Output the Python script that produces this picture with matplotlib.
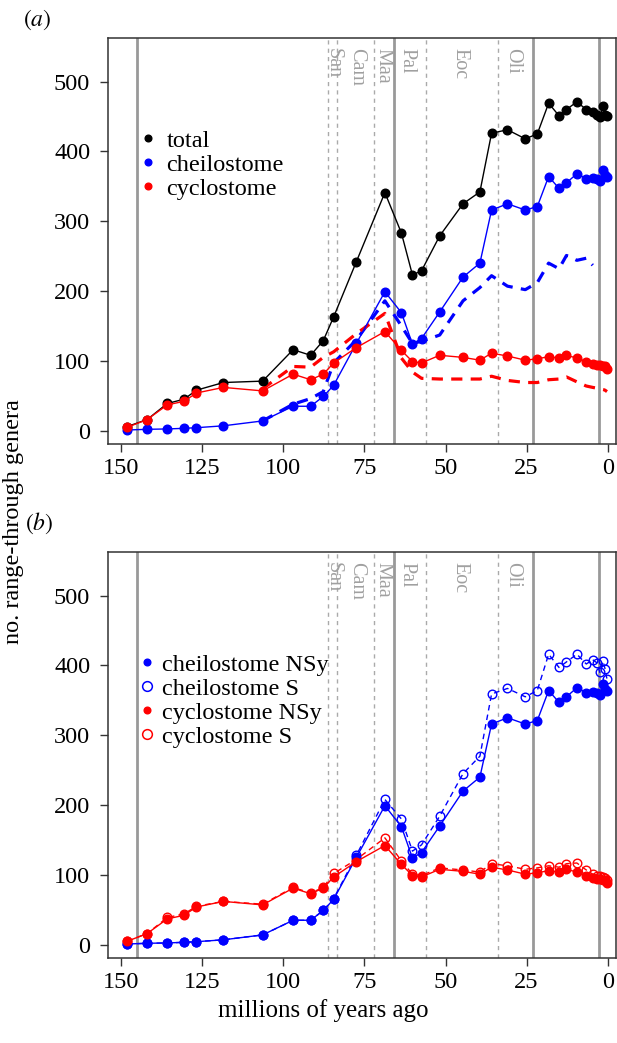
import matplotlib
matplotlib.use("Agg")
import matplotlib.pyplot as plt
from matplotlib.lines import Line2D

# ---------------- data ----------------
ma = [148.1, 142.0, 135.8, 130.7, 126.8, 118.5, 106.4, 97.0, 91.6, 87.7, 84.5,
      77.5, 68.7, 63.6, 60.2, 57.4, 51.8, 44.6, 39.4, 35.8, 30.9, 25.4, 21.7,
      18.2, 15.0, 12.7, 9.5, 6.6, 4.6, 3.4, 2.4, 1.4, 0.8, 0.2]
total = [6, 16, 39, 45, 58, 69, 71, 116, 108, 129, 163, 242, 341, 283, 223, 229,
         279, 325, 342, 426, 431, 418, 425, 469, 451, 460, 471, 460, 456, 452,
         449, 465, 452, 451]
cheilo = [1, 2, 2.5, 3.4, 4.3, 7, 14, 35, 35, 49, 65, 125, 199, 169, 124, 132,
          170, 220, 240, 316, 325, 316, 321, 364, 347, 355, 368, 361, 362, 361,
          357, 373, 366, 363]
cyclo = [5, 16, 37, 42, 54, 62, 57, 81, 73, 81, 97, 119, 142, 115, 99, 97, 108,
         105, 101, 111, 107, 101, 103, 106, 104, 108, 104, 99, 96, 94, 94, 93,
         92, 89]

ma_bdash = [106.4, 97.0, 91.6, 87.7, 84.5, 77.5, 68.7, 63.6, 60.2, 57.4, 51.8,
            44.6, 39.4, 35.8, 30.9, 25.4, 21.7, 18.2, 15.0, 12.7, 9.5, 6.6, 4.6]
cheilo_dash = [14, 38, 46, 56, 97, 130, 186, 150, 125, 128, 137, 186, 205, 222,
               207, 202, 212, 240, 232, 251, 244, 247, 237]
ma_rdash = [106.4, 97.0, 91.6, 87.7, 84.5, 77.5, 68.7, 63.6, 60.2, 57.4, 51.8,
            44.6, 39.4, 35.8, 30.9, 25.4, 21.7, 18.2, 15.0, 12.7, 9.5, 6.6, 4.6,
            3.4, 2.4, 1.4, 0.8, 0.2]
cyclo_dash = [60, 92, 91, 105, 113, 139, 168, 104, 84, 75, 74, 74, 74, 78, 72,
              69, 69, 73, 74, 77, 70, 64, 62, 61, 60, 59, 58, 56]

cheilo_S = [1, 2, 2.5, 3.4, 4.3, 7, 14, 35, 35, 49, 66, 128, 208, 180, 134, 143,
            184, 245, 270, 359, 367, 355, 364, 416, 397, 405, 416, 402, 408, 404,
            390, 406, 395, 380]
cyclo_S = [5, 16, 39, 44, 55, 62, 58, 82, 74, 82, 102, 122, 153, 120, 101, 99,
           110, 107, 104, 116, 113, 108, 110, 113, 111, 116, 117, 107, 101, 99,
           98, 97, 95, 92]

major_bounds = [145.0, 66.0, 23.03, 2.58]
stage_bounds = [86.3, 83.6, 72.1, 56.0, 33.9]
stage_names = ["San", "Cam", "Maa", "Pal", "Eoc", "Oli"]
stage_pos = [84.8, 77.4, 69.3, 62.0, 45.6, 29.2]

xticks = [150, 125, 100, 75, 50, 25, 0]
yticks = [0, 100, 200, 300, 400, 500]

# ---------------- style ----------------
plt.rcParams['font.family'] = ['Liberation Serif', 'DejaVu Serif']
plt.rcParams['mathtext.fontset'] = 'stix'

BLUE = '#0000FF'
RED = '#FF0000'
GREY = '#999999'
FS = 17.5

fig = plt.figure(figsize=(6.17, 10.43), dpi=100)
axA = fig.add_axes([0.1755, 0.574, 0.8225, 0.3893])
axB = fig.add_axes([0.1755, 0.0812, 0.8225, 0.3893])


def decorate(ax):
    ax.set_xlim(154, -2.5)
    ax.set_ylim(-19.5, 562)
    for b in major_bounds:
        ax.axvline(b, color=GREY, lw=2.0, zorder=1)
    for b in stage_bounds:
        ax.axvline(b, color='#aaaaaa', lw=1.0, ls=(0, (3, 3)), zorder=1)
    for name, x in zip(stage_names, stage_pos):
        ax.text(x, 548, name, rotation=-90, ha='center', va='top',
                color='#a0a0a0', fontsize=14.5)
    ax.set_xticks(xticks)
    ax.set_yticks(yticks)
    ax.tick_params(direction='out', length=6, width=1, labelsize=FS,
                   color='#333333')
    ax.tick_params(axis='y', pad=7)
    ax.tick_params(axis='x', pad=4)
    for s in ax.spines.values():
        s.set_color('#333333')
        s.set_linewidth(1.1)


decorate(axA)
decorate(axB)

ms = 6.2
# panel (a)
axA.plot(ma_bdash, cheilo_dash, color=BLUE, lw=2.3, ls=(0, (3.5, 2.6)), zorder=3)
axA.plot(ma_rdash, cyclo_dash, color=RED, lw=2.3, ls=(0, (3.5, 2.6)), zorder=3)
axA.plot(ma, total, color='black', lw=1.0, marker='o', ms=ms, zorder=4)
axA.plot(ma, cheilo, color=BLUE, lw=1.0, marker='o', ms=ms, zorder=4)
axA.plot(ma, cyclo, color=RED, lw=1.0, marker='o', ms=ms, zorder=5)

# panel (b)
axB.plot(ma, cheilo_S, color=BLUE, lw=1.0, ls=(0, (4, 3)), marker='o', ms=ms,
         mfc='none', mew=1.0, zorder=3)
axB.plot(ma, cheilo, color=BLUE, lw=1.0, marker='o', ms=ms, zorder=4)
axB.plot(ma, cyclo_S, color=RED, lw=1.0, ls=(0, (4, 3)), marker='o', ms=ms,
         mfc='none', mew=1.0, zorder=3)
axB.plot(ma, cyclo, color=RED, lw=1.0, marker='o', ms=ms, zorder=4)

# legends
hA = [Line2D([], [], ls='none', marker='o', ms=4.8, color=c) for c in ['black', BLUE, RED]]
axA.legend(hA, ['total', 'cheilostome', 'cyclostome'], loc='upper left',
           bbox_to_anchor=(0.064, 0.775), frameon=False, fontsize=FS,
           handlelength=0.6, handletextpad=0.46, labelspacing=0.08,
           borderaxespad=0, borderpad=0)
hB = [Line2D([], [], ls='none', marker='o', ms=4.8, color=BLUE),
      Line2D([], [], ls='none', marker='o', ms=7.0, color=BLUE, mfc='none', mew=1.1),
      Line2D([], [], ls='none', marker='o', ms=4.8, color=RED),
      Line2D([], [], ls='none', marker='o', ms=7.0, color=RED, mfc='none', mew=1.1)]
axB.legend(hB, ['cheilostome NSy', 'cheilostome S', 'cyclostome NSy', 'cyclostome S'],
           loc='upper left', bbox_to_anchor=(0.062, 0.7495), frameon=False,
           fontsize=FS, handlelength=0.6, handletextpad=0.33, labelspacing=0.08,
           borderaxespad=0, borderpad=0)

# panel labels and axis titles
fig.text(0.038, 0.981, r'$($' + r'$\mathit{a}$' + r'$)$', fontsize=17, ha='left', va='center')
fig.text(0.040, 0.4985, r'$($' + r'$\mathit{b}$' + r'$)$', fontsize=17, ha='left', va='center')
fig.text(0.022, 0.4995, 'no. range-through genera', rotation=90, ha='center',
         va='center', fontsize=17.5)
fig.text(0.5235, 0.0315, 'millions of years ago', ha='center', va='center', fontsize=18)

fig.savefig('out.png', dpi=100)
